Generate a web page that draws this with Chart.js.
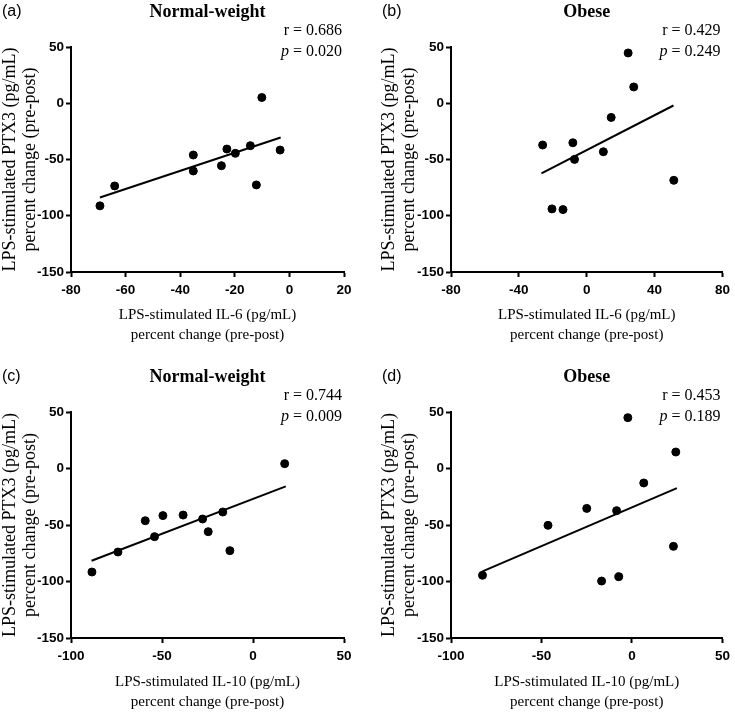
<html>
<head>
  <title>PTX3 correlations</title>
  <script src="https://cdn.jsdelivr.net/npm/chart.js@4.4.1/dist/chart.umd.min.js"></script>
  <style>
    body{ margin:0; background:#fff; }
    #wrap{ position:relative; width:735px; height:716px; }
    canvas{ position:absolute; }
  </style>
</head>
<body>
  <div id="wrap">
    <canvas id="pa" width="365" height="352" style="left:0px; top:0px"></canvas>
    <canvas id="pb" width="370" height="352" style="left:365px; top:0px"></canvas>
    <canvas id="pc" width="365" height="376" style="left:0px; top:340px"></canvas>
    <canvas id="pd" width="370" height="376" style="left:365px; top:340px"></canvas>
  </div>

  <script>
    // values
    var aX = [-69.4, -64.0, -35.2, -35.2, -24.9, -22.9, -19.8, -14.3, -12.1, -10.1, -3.4];
    var aY = [-91.2, -73.5, -46.0, -60.2, -55.5, -40.7, -44.5, -37.7, -72.6, 5.1, -41.6];
    var aFitX = [-69.4, -3.2];
    var aFitY = [-83.8, -30.4];

    var bX = [-26.0, -20.5, -14.0, -8.2, -7.2, 9.8, 14.4, 24.4, 27.7, 51.3];
    var bY = [-37.1, -93.9, -94.5, -35.1, -49.9, -43.1, -12.6, 44.7, 14.5, -68.5];
    var bFitX = [-26.7, 51.1];
    var bFitY = [-62.3, -2.0];

    var cX = [-88.5, -74.2, -59.2, -54.1, -49.5, -38.4, -27.7, -24.6, -16.6, -12.7, 17.4];
    var cY = [-91.6, -73.9, -46.2, -60.3, -41.7, -41.2, -44.7, -55.9, -38.5, -72.7, 4.3];
    var cFitX = [-88.7, 18.0];
    var cFitY = [-81.6, -15.8];

    var dX = [-82.6, -46.4, -25.0, -16.8, -8.5, -7.3, -2.3, 6.5, 22.9, 24.2];
    var dY = [-94.5, -50.3, -35.3, -99.6, -37.3, -95.7, 45.0, -12.8, -68.9, 14.6];
    var dFitX = [-82.6, 24.8];
    var dFitY = [-91.0, -17.3];

    var yTicks = [-150, -100, -50, 0, 50];
    var il6NormalTicks = [-80, -60, -40, -20, 0, 20];
    var il6ObeseTicks = [-80, -40, 0, 40, 80];
    var il10Ticks = [-100, -50, 0, 50];

    var yTitle = ['LPS-stimulated PTX3 (pg/mL)', 'percent change (pre-post)'];
    var il6Title = ['LPS-stimulated IL-6 (pg/mL)', 'percent change (pre-post)'];
    var il10Title = ['LPS-stimulated IL-10 (pg/mL)', 'percent change (pre-post)'];

    var tickFont = { family: "'Liberation Sans', Arial, sans-serif", size: 13.5, weight: 'bold' };
    var serif = "'Liberation Serif', 'Times New Roman', serif";

    function pts(xs, ys){
      var out = [];
      for (var i = 0; i < xs.length; i++){
        out.push({x: xs[i], y: ys[i]});
      }
      return out;
    }

    // panel letter, title and r / p text
    var panelText = {
      id: 'panelText',
      afterDraw: function(chart, args, o){
        var ctx = chart.ctx;
        var ca = chart.chartArea;
        ctx.save();
        ctx.fillStyle = '#000';
        ctx.textBaseline = 'middle';

        ctx.font = "16px 'Liberation Sans', Arial, sans-serif";
        ctx.textAlign = 'left';
        ctx.fillText(o.letter, ca.left - 69, ca.top - 35);

        ctx.font = "bold 18px " + serif;
        ctx.textAlign = 'center';
        ctx.fillText(o.title, (ca.left + ca.right) / 2, ca.top - 35);

        ctx.font = "16px " + serif;
        ctx.textAlign = 'right';
        ctx.fillText('r = ' + o.r, ca.right - 2, ca.top - 16);
        var rest = ' = ' + o.p;
        var w = ctx.measureText(rest).width;
        ctx.fillText(rest, ca.right - 2, ca.top + 5);
        ctx.font = "italic 16px " + serif;
        ctx.fillText('p', ca.right - 2 - w, ca.top + 5);
        ctx.restore();
      }
    };

    function panel(id, xs, ys, fx, fy, xTicks, xTitle, txt, geo){
      var H = document.getElementById(id).height;
      var W = document.getElementById(id).width;
      new Chart(document.getElementById(id), {
        type: 'scatter',
        data: {
          datasets: [
            {
              data: pts(xs, ys),
              backgroundColor: '#000',
              borderColor: '#000',
              pointRadius: 4,
              pointHoverRadius: 4
            },
            {
              data: pts(fx, fy),
              showLine: true,
              borderColor: '#000',
              borderWidth: 2,
              pointRadius: 0
            }
          ]
        },
        options: {
          responsive: false,
          animation: false,
          devicePixelRatio: 1,
          layout: { padding: { left: 0, top: geo.top, right: W - geo.right, bottom: 0 } },
          plugins: {
            legend: { display: false },
            tooltip: { enabled: false },
            panelText: txt
          },
          scales: {
            x: {
              type: 'linear',
              min: xTicks[0],
              max: xTicks[xTicks.length - 1],
              afterBuildTicks: function(s){ s.ticks = xTicks.map(function(v){ return {value: v}; }); },
              afterFit: function(s){ s.height = H - geo.bottom; },
              grid: { drawOnChartArea: false, drawTicks: true, tickLength: 5, tickWidth: 2, tickColor: '#000' },
              border: { display: true, color: '#000', width: 2 },
              ticks: { color: '#000', font: tickFont, padding: 5, maxRotation: 0 },
              title: {
                display: true,
                text: xTitle,
                color: '#000',
                font: { family: serif, size: 15, lineHeight: 20 / 15 },
                padding: { top: 0, bottom: geo.xPad }
              }
            },
            y: {
              type: 'linear',
              min: -150,
              max: 50,
              afterBuildTicks: function(s){ s.ticks = yTicks.map(function(v){ return {value: v}; }); },
              afterFit: function(s){ s.width = geo.left; },
              grid: { drawOnChartArea: false, drawTicks: true, tickLength: 5, tickWidth: 2, tickColor: '#000' },
              border: { display: true, color: '#000', width: 2 },
              ticks: { color: '#000', font: tickFont, padding: 2 },
              title: {
                display: true,
                text: yTitle,
                color: '#000',
                font: { family: serif, size: 18, lineHeight: 20 / 18 },
                padding: { top: geo.yPad, bottom: 0 }
              }
            }
          }
        },
        plugins: [panelText]
      });
    }

    panel('pa', aX, aY, aFitX, aFitY, il6NormalTicks, il6Title,
      {letter: '(a)', title: 'Normal-weight', r: '0.686', p: '0.020'},
      {left: 71, right: 344, top: 47, bottom: 272, xPad: 7, yPad: 0});
    panel('pb', bX, bY, bFitX, bFitY, il6ObeseTicks, il6Title,
      {letter: '(b)', title: 'Obese', r: '0.429', p: '0.249'},
      {left: 86, right: 359, top: 47, bottom: 272, xPad: 7, yPad: 14});
    panel('pc', cX, cY, cFitX, cFitY, il10Ticks, il10Title,
      {letter: '(c)', title: 'Normal-weight', r: '0.744', p: '0.009'},
      {left: 71, right: 344, top: 72, bottom: 298, xPad: 4, yPad: 0});
    panel('pd', dX, dY, dFitX, dFitY, il10Ticks, il10Title,
      {letter: '(d)', title: 'Obese', r: '0.453', p: '0.189'},
      {left: 86, right: 359, top: 72, bottom: 298, xPad: 4, yPad: 14});
  </script>
</body>
</html>
